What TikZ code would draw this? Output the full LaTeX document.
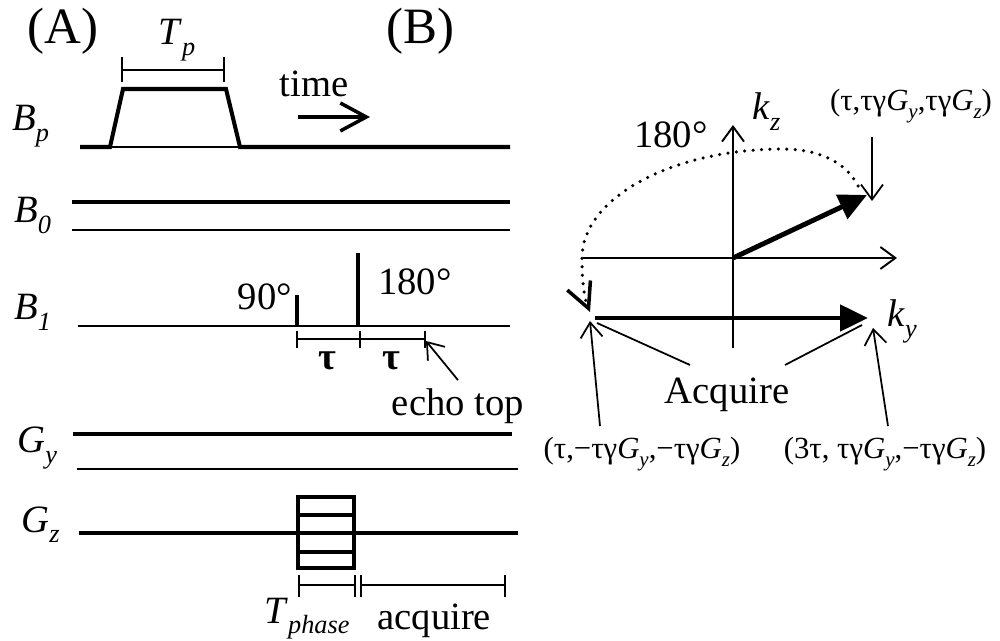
\documentclass[tikz,border=0pt]{standalone}
\usepackage{fontspec}
\setmainfont{Liberation Serif}
\usepackage{graphicx}
\usepackage{tikz}
\usetikzlibrary{arrows.meta, positioning, calc}
\newcommand{\symsub}[2]{\textit{#1}\raisebox{-0.27em}{\scalebox{0.68}{\textit{#2}}}}
\tikzset{
	paneltext/.style={
			font=\fontsize{29}{32}\selectfont,
			inner sep=0pt
		},
	signaltext/.style={
			font=\fontsize{22}{25}\selectfont,
			inner sep=0pt,
			anchor=base west
		},
	plaintext/.style={
			font=\fontsize{22}{25}\selectfont,
			inner sep=0pt
		},
	coordtext/.style={
			font=\fontsize{17.5}{20}\selectfont,
			inner sep=0pt
		}
}
\tikzset{
	wave/.style={line width=2.3pt, line cap=butt},
	thinwave/.style={line width=1.1pt},
	dimline/.style={line width=1pt},
	openhead/.style={-{Straight Barb[length=3mm,width=4.4mm]}},
	bighead/.style={-{Straight Barb[length=5.2mm,width=5.6mm]}},
	solidhead/.style={-{Triangle[length=5.6mm,width=5.2mm]}}
}

\begin{document}
\begin{tikzpicture}[x=0.02cm, y=-0.02cm]
  \useasboundingbox (0,0) rectangle (1000,641);

  % (A) pulse sequence
  \node[paneltext, anchor=base west] (panA) at (27,44) {(A)};
  \node[signaltext] (lblBp) at (12,131) {\symsub{B}{p}};
  \node[signaltext] (lblB0) at (14,223) {\symsub{B}{0}};
  \node[signaltext] (lblB1) at (14,320) {\symsub{B}{1}};
  \node[signaltext] (lblGy) at (17,453) {\symsub{G}{y}};
  \node[signaltext] (lblGz) at (21,532) {\symsub{G}{z}};

  % Bp pulse
  \draw[thinwave] (110,147) -- (240,147);
  \draw[wave, line join=miter] (80,147) -- (110,147) -- (123,89) -- (226,89) -- (240,147) -- (510,147);
  \draw[dimline] (122,70) -- (224,70);
  \draw[dimline] (122,57) -- (122,82);
  \draw[dimline] (224,57) -- (224,82);
  \node[signaltext] (lblTp) at (158,45) {\symsub{T}{p}};
  \node[plaintext] (lbltime) at (314,84) {time};
  \draw[line width=2pt, bighead] (298,117) -- (370,117);

  % B0
  \draw[wave] (72,202) -- (510,202);
  \draw[thinwave] (72,230) -- (510,230);

  % B1 with pulses
  \draw[thinwave] (78,326) -- (510,326);
  \draw[wave] (297,326) -- (297,295);
  \draw[wave] (358,326) -- (358,253);
  \node[plaintext] (lbl90) at (265,297) {90°};
  \node[plaintext] (lbl180) at (415,282) {180°};
  \draw[dimline] (297,339) -- (425,339);
  \foreach \tx in {297,360,425}
    \draw[dimline] (\tx,331) -- (\tx,348);
  \node[plaintext] (tau1) at (327,361) {\textbf{τ}};
  \node[plaintext] (tau2) at (391,361) {\textbf{τ}};
  \node[plaintext] (lblecho) at (458,406) {echo top};
  \coordinate (echotip) at (426,341);
  \draw[dimline, openhead] (lblecho.north) ++(0,-8) -- (echotip);

  % Gy
  \draw[wave] (73,434) -- (512,434);
  \draw[thinwave] (77,469) -- (518,469);

  % Gz with phase table
  \draw[wave] (79,533) -- (518,533);
  \draw[wave] (298,497) rectangle (354,568);
  \foreach \ty in {515,552}
    \draw[wave] (298,\ty) -- (354,\ty);
  \draw[dimline] (299,585) -- (355,585);
  \draw[dimline] (361,585) -- (505,585);
  \foreach \tx in {299,355,361,505}
    \draw[dimline] (\tx,575) -- (\tx,597);
  \node[signaltext] (lblTph) at (264,623) {\symsub{T}{phase}};
  \node[plaintext, anchor=base west] (lblacq) at (377,629) {acquire};

  % (B) k-space
  \node[paneltext, anchor=base west] (panB) at (386,44) {(B)};
  \coordinate (origin) at (733,258);
  \draw[thinwave, openhead] (733,348) -- (733,125);
  \draw[thinwave, openhead] (583,258) -- (897,258);
  \node[signaltext] (lblkz) at (752,120) {\symsub{k}{z}};
  \node[signaltext] (lblky) at (887,327) {\symsub{k}{y}};
  \node[plaintext] (lblflip) at (671,135) {180°};

  \coordinate (firsttip) at (867,195);
  \coordinate (startL) at (595,318);
  \coordinate (endR) at (868,318);
  \draw[line width=2.8pt, solidhead] (origin) -- (firsttip);
  \draw[line width=2.8pt, solidhead] (startL) -- (endR);

  % 180 degree flip
  \draw[line width=2pt, line cap=round, dash pattern=on 0pt off 4.8pt,
        -{Straight Barb[length=5mm,width=5mm,line width=2pt]}]
    (858,186) .. controls (845,160) and (815,149) .. (783,149)
    .. controls (672,149) and (582,198) .. (582,258)
    .. controls (582,285) and (585,300) .. (590,312);

  \node[coordtext] (lbltop) at (911,106) {(τ,τγ\symsub{G}{y},τγ\symsub{G}{z})};
  \coordinate (toptail) at (872,137);
  \coordinate (toptip) at (872,201);
  \draw[dimline, openhead] (toptail) -- (toptip);

  \node[plaintext] (lblAcq) at (727,395) {Acquire};
  \coordinate (acqL) at (690,365);
  \coordinate (acqR) at (785,365);
  \draw[dimline] (acqL) -- (597,323);
  \draw[dimline] (acqR) -- (862,325);

  \node[coordtext] (lblneg) at (642,454) {(τ,−τγ\symsub{G}{y},−τγ\symsub{G}{z})};
  \node[coordtext] (lblend) at (885,454) {(3τ, τγ\symsub{G}{y},−τγ\symsub{G}{z})};
  \coordinate (negtail) at (600,426);
  \coordinate (negtip) at (590,321);
  \coordinate (endtail) at (888,426);
  \coordinate (endtip) at (873,328);
  \draw[dimline, openhead] (negtail) -- (negtip);
  \draw[dimline, openhead] (endtail) -- (endtip);
\end{tikzpicture}
\end{document}
